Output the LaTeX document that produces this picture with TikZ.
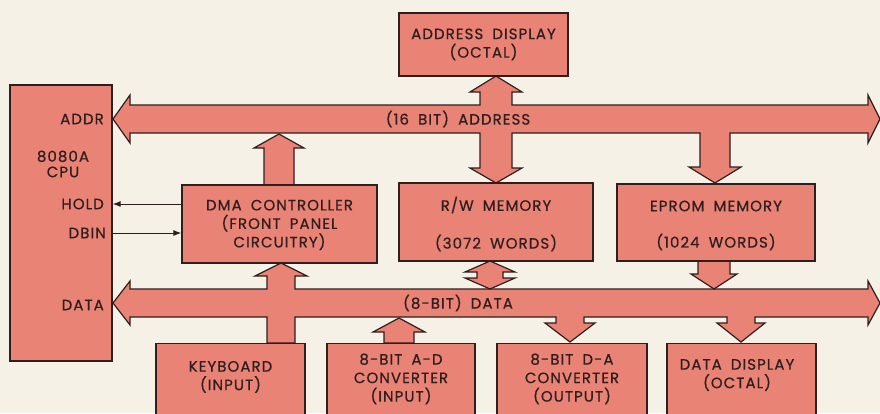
\documentclass[tikz,border=0pt]{standalone}
\usepackage{fontspec}
\setmainfont{Poppins}[FakeBold=0.6, LetterSpace=7, WordSpace=1.8]
\usepackage{tikz}
\usetikzlibrary{arrows.meta}
\definecolor{paper}{RGB}{246,241,231}
\definecolor{salmon}{RGB}{233,131,118}
\definecolor{ink}{RGB}{48,30,30}
\tikzset{
  box/.style={draw=ink, fill=salmon, line width=1.2pt, inner sep=0pt},
  bus/.style={draw=ink, fill=salmon, line width=1.2pt, line join=miter},
  lbl/.style={text=ink, font=\fontsize{15}{18.5}\selectfont, align=center, inner sep=0pt},
  sig/.style={draw=ink, line width=1pt, -{Latex[length=8pt,width=6pt]}}
}

\begin{document}
\begin{tikzpicture}[x=1pt,y=-1pt]
      \useasboundingbox (0,0) rectangle (880,413);
      \fill[paper] (0,0) rectangle (880,413);
      \clip (0,0) rectangle (880,413);

      \draw[bus] (113,119) -- (130,95) -- (130,105) -- (480,105) -- (480,92) -- (470,92)
        -- (496,76) -- (522,92) -- (512,92) -- (512,105) -- (868,105) -- (868,95)
        -- (880,119) -- (868,143) -- (868,133) -- (730,133) -- (730,167) -- (741,167)
        -- (715,183) -- (689,167) -- (700,167) -- (700,133) -- (512,133) -- (512,168)
        -- (522,168) -- (496,183) -- (470,168) -- (480,168) -- (480,133) -- (130,133)
        -- (130,143) -- cycle;

      \draw[bus] (113,303) -- (130,281) -- (130,289) -- (267,289) -- (267,276) -- (255,276)
        -- (281,263) -- (307,276) -- (295,276) -- (295,289) -- (868,289) -- (868,281)
        -- (880,303) -- (868,325) -- (868,317) -- (755,317) -- (755,323) -- (765,323)
        -- (741,342) -- (717,323) -- (727,323) -- (727,317) -- (584,317) -- (584,323)
        -- (595,323) -- (570,342) -- (545,323) -- (556,323) -- (556,317) -- (295,317)
        -- (295,343) -- (267,343) -- (267,317) -- (130,317) -- (130,325) -- cycle;

      \draw[bus] (264,185) -- (264,148) -- (254,148) -- (279,134) -- (304,148) -- (294,148) -- (294,185) -- cycle;
      \draw[bus] (384,343) -- (384,332) -- (373,332) -- (399,318) -- (425,332) -- (414,332) -- (414,343) -- cycle;
      \draw[bus] (698,261) -- (698,274) -- (691,274) -- (714,289) -- (737,274) -- (730,274) -- (730,261) -- cycle;
      \draw[bus] (490,261) -- (515,272) -- (503,272) -- (503,278) -- (515,278) -- (490,289)
        -- (465,278) -- (477,278) -- (477,272) -- (465,272) -- cycle;

      \node[box, minimum width=102, minimum height=276] (cpu) at (61,223) {};
      \node[box, minimum width=169, minimum height=63] (adisp) at (483.5,44.5) {};
      \node[box, minimum width=195, minimum height=78] (dma) at (279.5,224) {};
      \node[box, minimum width=194, minimum height=78] (rwmem) at (496,222) {};
      \node[box, minimum width=198, minimum height=77] (eprom) at (716,222.5) {};
      \node[box, minimum width=149, minimum height=90, anchor=north] (kbd) at (230.5,343) {};
      \node[box, minimum width=148, minimum height=90, anchor=north] (adc) at (401,343) {};
      \node[box, minimum width=150, minimum height=90, anchor=north] (dac) at (572,343) {};
      \node[box, minimum width=149, minimum height=90, anchor=north] (ddisp) at (741.5,343) {};

      \node[lbl, anchor=east] (addr) at (104,119) {ADDR};
      \node[lbl, font=\fontsize{15}{15.5}\selectfont] (cpuname) at (63,164) {8080A\\CPU};
      \node[lbl, anchor=east] (hold) at (104,204) {HOLD};
      \node[lbl, anchor=east] (dbin) at (106,233) {DBIN};
      \node[lbl, anchor=east] (data) at (104,305) {DATA};

      \node[lbl] (abus) at (458,119) {(16 BIT) ADDRESS};
      \node[lbl] (dbus) at (458,303) {(8-BIT) DATA};

      \node[lbl] at (adisp) {ADDRESS DISPLAY\\(OCTAL)};
      \node[lbl] at (279.5,225) {DMA CONTROLLER\\(FRONT PANEL\\CIRCUITRY)};
      \node[lbl] at (496,205) {R/W MEMORY};
      \node[lbl] at (496,243) {(3072 WORDS)};
      \node[lbl] at (716,206) {EPROM MEMORY};
      \node[lbl] at (716,242) {(1024 WORDS)};
      \node[lbl] at (230.5,377) {KEYBOARD\\(INPUT)};
      \node[lbl] at (401,379) {8-BIT A-D\\CONVERTER\\(INPUT)};
      \node[lbl] at (572,379) {8-BIT D-A\\CONVERTER\\(OUTPUT)};
      \node[lbl] at (737,375) {DATA DISPLAY\\(OCTAL)};

      \draw[sig] (dma.west |- hold) -- (cpu.east |- hold);
      \draw[sig] (cpu.east |- dbin) -- (dma.west |- dbin);
    \end{tikzpicture}
\end{document}
